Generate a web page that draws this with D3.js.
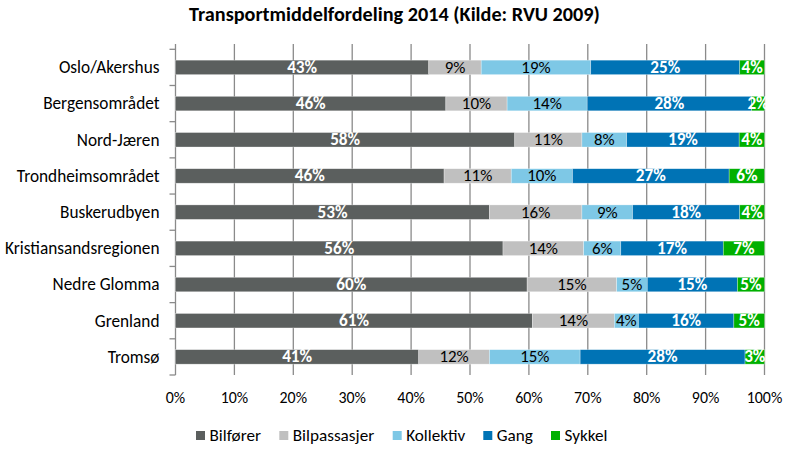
<!DOCTYPE html>
<html>
<head>
<meta charset="utf-8">
<script src="https://cdn.jsdelivr.net/npm/d3@7"></script>
<style>
body{margin:0;background:#fff;}
text{font-family:Carlito,Calibri,Lato,"Liberation Sans",sans-serif;}
</style>
</head>
<body>
<svg id="chart" width="791" height="453"></svg>
<script>
const categories = ["Oslo/Akershus","Bergensområdet","Nord-Jæren","Trondheimsområdet","Buskerudbyen","Kristiansandsregionen","Nedre Glomma","Grenland","Tromsø"];
const seriesNames = ["Bilfører","Bilpassasjer","Kollektiv","Gang","Sykkel"];
const bilforer     = [43.0, 45.9, 57.6, 45.6, 53.3, 55.6, 59.7, 60.6, 41.3];
const bilpassasjer = [ 8.9, 10.4, 11.4, 11.4, 15.7, 13.7, 15.2, 13.9, 12.0];
const kollektiv    = [18.6, 13.6,  7.6, 10.4,  8.6,  6.3,  5.2,  4.1, 15.4];
const gang         = [25.3, 27.9, 19.1, 26.6, 18.2, 17.4, 15.3, 16.2, 28.0];
const sykkel       = [ 4.2,  2.2,  4.3,  6.0,  4.2,  7.0,  4.6,  5.2,  3.3];
const xTicks = [0,10,20,30,40,50,60,70,80,90,100];
const title = "Transportmiddelfordeling 2014 (Kilde: RVU 2009)";

const colors = ["#5b5f5e","#c0c0c0","#7ec8e6","#0073b5","#00b000"];
const labelColors = ["#ffffff","#000000","#000000","#ffffff","#ffffff"];
const labelWeights = ["bold","normal","normal","bold","bold"];

const seriesValues = [bilforer, bilpassasjer, kollektiv, gang, sykkel];
const rows = categories.map((c,i)=>{
  const r = {cat:c};
  seriesNames.forEach((s,j)=> r[s] = seriesValues[j][i]);
  return r;
});

const svg = d3.select("#chart");

// choose a font size so that a sample string has the width it has in the reference
function fitSize(sample, weight, targetWidth){
  const t = svg.append("text").attr("font-size",100).attr("font-weight",weight).text(sample);
  const w = t.node().getComputedTextLength();
  t.remove();
  return 100*targetWidth/w;
}
const titleSize = fitSize(title, "bold", 411);
const catSize = (fitSize("Kristiansandsregionen","normal",154) + fitSize("Oslo/Akershus","normal",101))/2;
const tickSize = (fitSize("100%","normal",35) + fitSize("10%","normal",27.9))/2;
const legendSize = (fitSize("Bilpassasjer","normal",81) + fitSize("Bilfører","normal",51.7))/2;
const boldLabelSize = fitSize("43%","bold",30);
const normLabelSize = fitSize("19%","normal",29.3);

const plotLeft = 175.5, plotRight = 764.5, plotTop = 49.3, plotBottom = 375;

const x = d3.scaleLinear().domain([0,100]).range([plotLeft,plotRight]);
const y = d3.scaleBand().domain(categories).range([plotTop,plotBottom]).paddingInner(0.6).paddingOuter(0.3);

// title
svg.append("text").attr("x",394.5).attr("y",21).attr("text-anchor","middle")
  .attr("font-size",titleSize).attr("font-weight","bold").attr("fill","#000").text(title);

// gridlines
svg.append("g").selectAll("line").data(xTicks.slice(1)).join("line")
  .attr("x1",d=>x(d)).attr("x2",d=>x(d)).attr("y1",44).attr("y2",plotBottom)
  .attr("stroke","#8a8a8a").attr("stroke-width",1.3);

// y axis line and ticks
svg.append("line").attr("x1",plotLeft).attr("x2",plotLeft).attr("y1",44).attr("y2",plotBottom)
  .attr("stroke","#8a8a8a").attr("stroke-width",1.3);
const step = y.step();
const boundaries = d3.range(categories.length+1).map(i=>plotTop + i*step);
svg.append("g").selectAll("line").data(boundaries).join("line")
  .attr("x1",plotLeft-6).attr("x2",plotLeft).attr("y1",d=>d).attr("y2",d=>d)
  .attr("stroke","#8a8a8a").attr("stroke-width",1.3);

// stacked bars
const stack = d3.stack().keys(seriesNames)(rows);
const g = svg.append("g");
stack.forEach((layer,j)=>{
  g.append("g").selectAll("rect").data(layer).join("rect")
    .attr("x",d=>x(d[0])).attr("width",d=>x(d[1])-x(d[0]))
    .attr("y",d=>y(d.data.cat)).attr("height",y.bandwidth())
    .attr("fill",colors[j]).attr("stroke","#ffffff").attr("stroke-opacity",0.5).attr("stroke-width",0.6);
});
stack.forEach((layer,j)=>{
  g.append("g").selectAll("text").data(layer).join("text")
    .attr("x",d=>(x(d[0])+x(d[1]))/2).attr("y",d=>y(d.data.cat)+y.bandwidth()/2+5.5)
    .attr("text-anchor","middle")
    .attr("font-size",labelWeights[j]==="bold"?boldLabelSize:normLabelSize)
    .attr("font-weight",labelWeights[j]).attr("fill",labelColors[j])
    .text(d=>Math.round(d[1]-d[0])+"%");
});

// category labels
svg.append("g").selectAll("text").data(categories).join("text")
  .attr("x",159.5).attr("y",d=>y(d)+y.bandwidth()/2+5.8)
  .attr("text-anchor","end").attr("font-size",catSize).attr("fill","#000").text(d=>d);

// x tick labels
svg.append("g").selectAll("text").data(xTicks).join("text")
  .attr("x",d=>x(d)).attr("y",403).attr("text-anchor","middle")
  .attr("font-size",tickSize).attr("fill","#000").text(d=>d+"%");

// legend
const legendX = [196, 279.3, 392.7, 483.3, 551];
const lg = svg.append("g").selectAll("g").data(seriesNames).join("g")
  .attr("transform",(d,i)=>`translate(${legendX[i]},0)`);
lg.append("rect").attr("x",0).attr("y",431).attr("width",9).attr("height",9).attr("fill",(d,i)=>colors[i]);
lg.append("text").attr("x",13.5).attr("y",441).attr("font-size",legendSize).attr("fill","#000").text(d=>d);
</script>
</body>
</html>
